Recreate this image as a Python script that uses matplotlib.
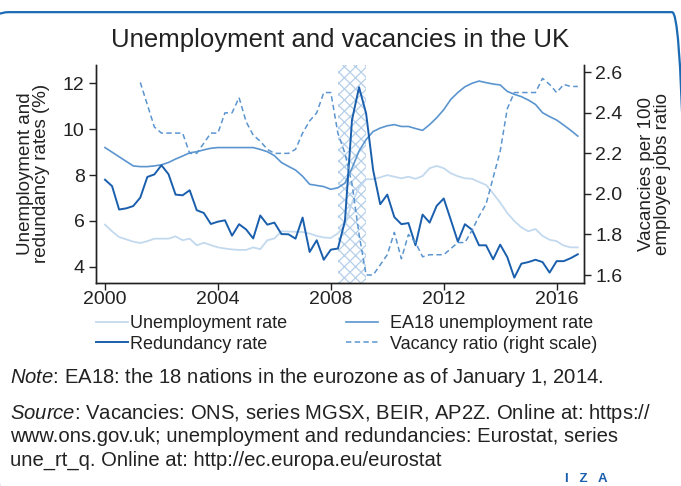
import numpy as np
import matplotlib.pyplot as plt
from matplotlib.lines import Line2D
from matplotlib.patches import FancyBboxPatch

# quarterly series, 2000Q1 .. 2016Q4
unemp = [5.84, 5.55, 5.3, 5.2, 5.1, 5.04, 5.12, 5.23, 5.23, 5.23, 5.33, 5.16,
         5.23, 4.94, 5.05, 4.95, 4.85, 4.8, 4.76, 4.74, 4.74, 4.85, 4.77, 5.16,
         5.24, 5.55, 5.54, 5.53, 5.52, 5.45, 5.35, 5.28, 5.26, 5.46, 5.83, 6.8,
         7.45, 7.82, 7.82, 7.9, 8.0, 7.93, 7.86, 7.93, 7.84, 7.96, 8.3, 8.4,
         8.3, 8.08, 7.95, 7.86, 7.84, 7.7, 7.57, 7.2, 6.8, 6.35, 6.0, 5.72,
         5.55, 5.65, 5.35, 5.18, 5.12, 4.93, 4.85, 4.85]
ea18 = [9.2, 9.0, 8.8, 8.6, 8.4, 8.37, 8.37, 8.4, 8.45, 8.55, 8.7, 8.83,
        8.97, 9.02, 9.1, 9.17, 9.2, 9.2, 9.2, 9.2, 9.2, 9.2, 9.12, 9.02,
        8.85, 8.55, 8.38, 8.22, 7.95, 7.6, 7.55, 7.5, 7.38, 7.45, 7.65, 8.3,
        9.05, 9.55, 9.9, 10.05, 10.15, 10.2, 10.12, 10.12, 10.03, 9.95, 10.2, 10.5,
        10.85, 11.3, 11.6, 11.85, 12.0, 12.1, 12.03, 11.97, 11.93, 11.65, 11.52, 11.42,
        11.27, 11.08, 10.72, 10.55, 10.4, 10.18, 9.95, 9.7]
redund = [7.8, 7.52, 6.5, 6.55, 6.65, 7.02, 7.92, 8.03, 8.43, 8.04, 7.15, 7.12,
          7.34, 6.47, 6.35, 5.87, 5.97, 6.03, 5.36, 5.86, 5.63, 5.24, 6.24, 5.84,
          5.93, 5.43, 5.42, 5.23, 6.15, 4.65, 5.16, 4.31, 4.75, 4.8, 6.0, 10.4,
          11.83, 10.69, 8.21, 6.73, 7.15, 6.17, 5.86, 5.91, 4.94, 6.28, 5.93, 6.66,
          6.98, 6.05, 5.1, 5.86, 5.62, 4.94, 4.94, 4.33, 4.97, 4.43, 3.53, 4.14,
          4.21, 4.31, 4.21, 3.75, 4.25, 4.25, 4.38, 4.55]
# vacancy ratio starts 2001Q2
vacancy = [2.55, 2.44, 2.33, 2.3, 2.3, 2.3, 2.3, 2.2, 2.2, 2.25, 2.3, 2.3,
           2.4, 2.4, 2.475, 2.356, 2.29, 2.26, 2.22, 2.2, 2.2, 2.2, 2.22, 2.3,
           2.36, 2.4, 2.5, 2.5, 2.3, 2.2, 2.05, 1.8, 1.6, 1.6, 1.65, 1.7,
           1.81, 1.68, 1.8, 1.76, 1.69, 1.7, 1.7, 1.7, 1.73, 1.76, 1.76, 1.82,
           1.89, 1.95, 2.08, 2.21, 2.42, 2.5, 2.5, 2.5, 2.5, 2.57, 2.54, 2.5,
           2.54, 2.53, 2.53]

quarters = 2000 + np.arange(len(unemp)) / 4
vac_quarters = 2001.25 + np.arange(len(vacancy)) / 4
recession = (2008.25, 2009.25)

c_light = '#c3d9ee'
c_mid = '#5b95cf'
c_dark = '#1a5fad'
c_hatch = '#b5cfe9'
c_text = '#222222'

plt.rcParams['font.family'] = ['Liberation Sans', 'DejaVu Sans']
plt.rcParams['mathtext.fontset'] = 'custom'
plt.rcParams['mathtext.it'] = 'Liberation Sans:italic'
plt.rcParams['mathtext.rm'] = 'Liberation Sans'
plt.rcParams['hatch.linewidth'] = 0.9

fig = plt.figure(figsize=(6.81, 4.86), dpi=100)
ax = fig.add_axes([0.1405, 0.4183, 0.7171, 0.448])
ax2 = ax.twinx()

ax.axvspan(*recession, facecolor='none', edgecolor=c_hatch, hatch='xxx', lw=0, zorder=0)

ax.plot(quarters, unemp, color=c_light, lw=1.3, zorder=2)
ax.plot(quarters, ea18, color=c_mid, lw=1.2, zorder=3)
ax.plot(quarters, redund, color=c_dark, lw=1.4, zorder=4)
ax2.plot(vac_quarters, vacancy, color=c_mid, lw=1.1, ls=(0, (3.5, 2.2)))

ax.set_xlim(1999.67, 2016.97)
ax.set_ylim(3.31, 12.8)
ax2.set_ylim(1.562, 2.636)
ax.set_xticks([2000, 2004, 2008, 2012, 2016])
ax.set_yticks([4, 6, 8, 10, 12])
ax2.set_yticks([1.6, 1.8, 2.0, 2.2, 2.4, 2.6])
ax2.set_yticklabels(['1.6', '1.8', '2.0', '2.2', '2.4', '2.6'])

for a in (ax, ax2):
    a.spines['top'].set_visible(False)
    a.tick_params(labelsize=14, colors=c_text, length=5, width=1, direction='out')
    for s in a.spines.values():
        s.set_color(c_text)
        s.set_linewidth(1)
ax.tick_params(axis='x', pad=1)
ax.tick_params(axis='y', pad=3)
ax2.tick_params(axis='y', pad=3)

ax.set_ylabel('Unemployment and\nredundancy rates (%)', fontsize=13.5, color=c_text,
              linespacing=0.95, labelpad=9)
ax2.set_ylabel('Vacancies per 100\nemployee jobs ratio', fontsize=13.5, color=c_text,
               linespacing=0.95, labelpad=11)

fig.text(0.5, 0.917, 'Unemployment and vacancies in the UK', ha='center', va='center',
         fontsize=18.5, color=c_text)

# legend in two columns
h_u = Line2D([], [], color=c_light, lw=1.3)
h_r = Line2D([], [], color=c_dark, lw=1.4)
h_e = Line2D([], [], color=c_mid, lw=1.2)
h_v = Line2D([], [], color=c_mid, lw=1.1, ls=(0, (3.5, 2.2)))
leg_kw = dict(loc='upper left', frameon=False, fontsize=13, handlelength=1.75,
              labelspacing=0.2, borderaxespad=0, borderpad=0, labelcolor=c_text)
leg1 = fig.legend([h_u, h_r], ['Unemployment rate', 'Redundancy rate'],
                  bbox_to_anchor=(0.141, 0.352), handletextpad=0.15, **leg_kw)
leg2 = fig.legend([h_e, h_v], ['EA18 unemployment rate', 'Vacancy ratio (right scale)'],
                  bbox_to_anchor=(0.508, 0.352), handletextpad=0.7, **leg_kw)

note_kw = dict(fontsize=14.6, color=c_text, va='center', ha='left')
fig.text(0.015, 0.224, r'$\it{Note}$: EA18: the 18 nations in the eurozone as of January 1, 2014.',
         **note_kw)
fig.text(0.015, 0.15, r'$\it{Source}$: Vacancies: ONS, series MGSX, BEIR, AP2Z. Online at: https://',
         **note_kw)
fig.text(0.015, 0.101, 'www.ons.gov.uk; unemployment and redundancies: Eurostat, series', **note_kw)
fig.text(0.015, 0.053, 'une_rt_q. Online at: http://ec.europa.eu/eurostat', **note_kw)

fig.text(0.829, 0.0144, 'I   Z   A', color='#1a5fad', fontsize=9.5, fontweight='bold',
         ha='left', va='center')

# rounded frame across the top, its sides just past the canvas edge
frame = FancyBboxPatch((-0.009, -0.2), 1.018, 1.175, boxstyle='round,pad=0,rounding_size=0.022',
                       transform=fig.transFigure, facecolor='none', edgecolor='#1b6ab4',
                       lw=1.6, zorder=10)
fig.patches.append(frame)

fig.savefig('out.png', dpi=100)
